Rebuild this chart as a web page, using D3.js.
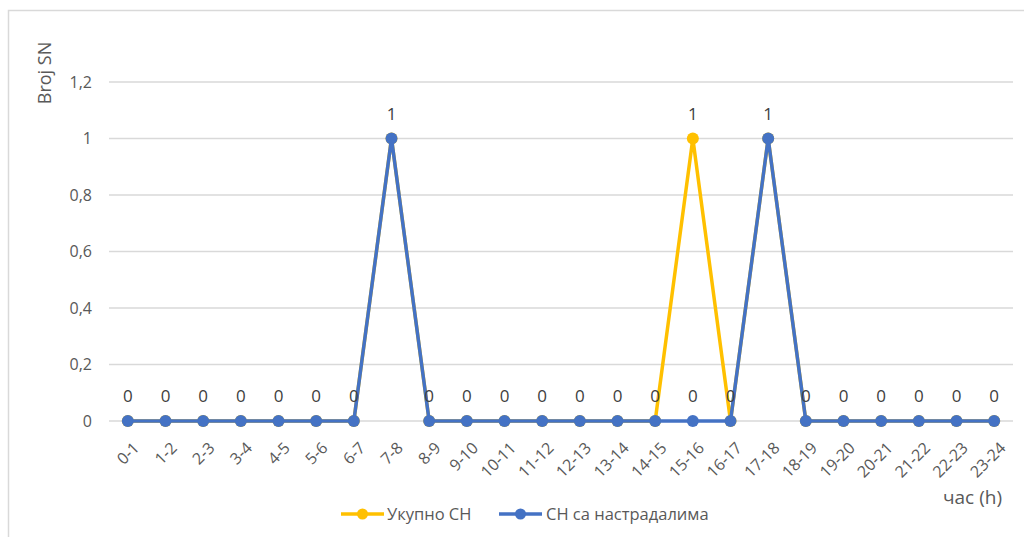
<!DOCTYPE html>
<html>
<head>
<meta charset="utf-8">
<script src="https://cdn.jsdelivr.net/npm/d3@7"></script>
<style>
  html, body { margin: 0; padding: 0; background: #fff; }
  svg { display: block; font-family: "Open Sans", "Noto Sans", sans-serif; }
</style>
</head>
<body>
<svg id="chart" width="1024" height="537"></svg>
<script>
// Hour intervals on the x axis
const hours = ["0-1","1-2","2-3","3-4","4-5","5-6","6-7","7-8","8-9","9-10","10-11","11-12",
  "12-13","13-14","14-15","15-16","16-17","17-18","18-19","19-20","20-21","21-22","22-23","23-24"];

// Total traffic accidents per hour
const totalAccidents = [0,0,0,0,0,0,0,1,0,0,0,0,0,0,0,1,0,1,0,0,0,0,0,0];
// Accidents with casualties per hour
const casualtyAccidents = [0,0,0,0,0,0,0,1,0,0,0,0,0,0,0,0,0,1,0,0,0,0,0,0];

const yTicks = [0, 0.2, 0.4, 0.6, 0.8, 1, 1.2];

const seriesNames = ["Укупно СН", "СН са настрадалима"];
const seriesColors = ["#FFC000", "#4472C4"];

const FONT = "'Open Sans', 'Noto Sans', sans-serif";
const svg = d3.select("#chart");
const plot = { left: 109, right: 1013, top: 82, bottom: 421 };

// Outer chart frame
svg.append("rect")
  .attr("x", 8.5).attr("y", 10.5).attr("width", 1030).attr("height", 540)
  .attr("fill", "none").attr("stroke", "#d9d9d9").attr("stroke-width", 1.5);

const x = d3.scalePoint().domain(hours).range([plot.left, plot.right]).padding(0.5);
const y = d3.scaleLinear().domain([0, 1.2]).range([plot.bottom, plot.top]);

// Horizontal gridlines
svg.append("g").selectAll("line").data(yTicks).join("line")
  .attr("x1", plot.left).attr("x2", plot.right)
  .attr("y1", d => y(d)).attr("y2", d => y(d))
  .attr("stroke", "#d9d9d9").attr("stroke-width", 1.5);

// Y axis labels (decimal comma)
const yAxis = d3.axisLeft(y).tickValues(yTicks).tickSize(0).tickPadding(0)
  .tickFormat(d => String(d).replace(".", ","));
const yg = svg.append("g").attr("transform", `translate(92,0)`).call(yAxis);
yg.select(".domain").remove();
yg.selectAll("text").attr("fill", "#595959").attr("font-size", 16)
  .attr("font-family", FONT);

// X axis labels rotated -45°
const xAxis = d3.axisBottom(x).tickSize(0).tickPadding(0);
const xg = svg.append("g").attr("transform", `translate(0,${plot.bottom})`).call(xAxis);
xg.select(".domain").remove();
xg.selectAll("text")
  .attr("fill", "#595959").attr("font-size", 16)
  .attr("font-family", FONT)
  .attr("text-anchor", "end")
  .attr("dy", "0.35em")
  .attr("transform", "translate(8,24) rotate(-45)");

// Axis titles
svg.append("text")
  .attr("transform", "translate(51,73) rotate(-90)")
  .attr("text-anchor", "middle")
  .attr("fill", "#595959").attr("font-size", 18)
  .text("Broj SN");

svg.append("text")
  .attr("x", 1002).attr("y", 504)
  .attr("text-anchor", "end")
  .attr("fill", "#595959").attr("font-size", 19)
  .text("час (h)");

// Lines and markers
const seriesData = [totalAccidents, casualtyAccidents];
const line = d3.line().x((d, i) => x(hours[i])).y(d => y(d));

seriesData.forEach((vals, s) => {
  const g = svg.append("g");
  g.append("path").datum(vals)
    .attr("d", line)
    .attr("fill", "none")
    .attr("stroke", seriesColors[s])
    .attr("stroke-width", 3.5)
    .attr("stroke-linejoin", "round");
  g.selectAll("circle").data(vals).join("circle")
    .attr("cx", (d, i) => x(hours[i]))
    .attr("cy", d => y(d))
    .attr("r", 6)
    .attr("fill", seriesColors[s]);
});

// Data labels: one per distinct (hour, value) position so coinciding labels stay crisp
const labelMap = new Map();
seriesData.forEach(vals => vals.forEach((v, i) => labelMap.set(`${i}|${v}`, { i, v })));
svg.append("g").selectAll("text").data([...labelMap.values()]).join("text")
  .attr("x", d => x(hours[d.i]))
  .attr("y", d => y(d.v) - 19)
  .attr("text-anchor", "middle")
  .attr("fill", "#404040")
  .attr("font-size", 17)
  .attr("font-family", FONT)
  .text(d => d.v);

// Legend
const legend = svg.append("g");
const legendItems = [
  { x: 341, textX: 387 },
  { x: 499, textX: 546 }
];
legendItems.forEach((it, i) => {
  legend.append("line")
    .attr("x1", it.x).attr("x2", it.x + 43)
    .attr("y1", 514).attr("y2", 514)
    .attr("stroke", seriesColors[i]).attr("stroke-width", 3.5);
  legend.append("circle")
    .attr("cx", it.x + 21.5).attr("cy", 514).attr("r", 5.5)
    .attr("fill", seriesColors[i]);
  legend.append("text")
    .attr("x", it.textX).attr("y", 520)
    .attr("fill", "#595959").attr("font-size", 16.5)
    .attr("font-family", FONT)
    .text(seriesNames[i]);
});
</script>
</body>
</html>
